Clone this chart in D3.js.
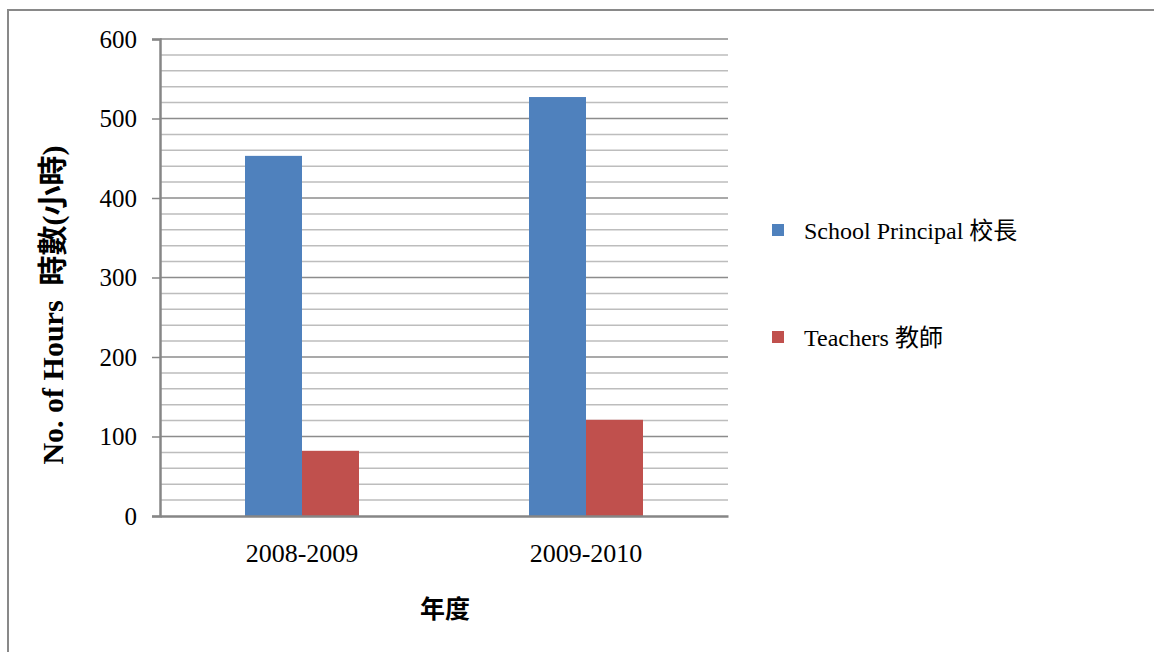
<!DOCTYPE html>
<html lang="zh-Hant">
<head>
<meta charset="UTF-8">
<title>No. of Hours</title>
<script src="https://d3js.org/d3.v7.min.js"></script>
<style>
  body { margin: 0; background: #fff; }
  svg text { font-family: "Liberation Serif", "Times New Roman", "Noto Sans CJK TC", serif; fill: #000; }
</style>
</head>
<body>
<svg id="chart" width="1154" height="652"></svg>
<script>
// data
var years = ["2008-2009", "2009-2010"];
var seriesNames = ["School Principal 校長", "Teachers 教師"];
var principal = [453, 527];
var teachers = [82, 121];
var colors = ["#4f81bd", "#c0504d"];
var yTicks = [0, 100, 200, 300, 400, 500, 600];

var svg = d3.select("#chart");

// outer frame
svg.append("rect")
    .attr("x", 8).attr("y", 10)
    .attr("width", 1160).attr("height", 660)
    .attr("fill", "none").attr("stroke", "#898989").attr("stroke-width", 2);

var plotL = 160, plotR = 728, plotT = 39, plotB = 516;

var x0 = d3.scaleBand().domain(years).range([plotL, plotR]);
var x1 = d3.scaleBand().domain(seriesNames).range([0, 114]);
var y = d3.scaleLinear().domain([0, 600]).range([plotB, plotT]);

// gridlines: minor every 20, major every 100
var minor = d3.range(20, 601, 20).filter(function(v) { return v % 100 !== 0; });
svg.append("g").selectAll("line").data(minor).enter().append("line")
    .attr("x1", plotL).attr("x2", plotR)
    .attr("y1", function(d) { return y(d); })
    .attr("y2", function(d) { return y(d); })
    .attr("stroke", "#bdbdbd").attr("stroke-width", 1.5);
svg.append("g").selectAll("line").data(yTicks.slice(1)).enter().append("line")
    .attr("x1", plotL).attr("x2", plotR)
    .attr("y1", function(d) { return y(d); })
    .attr("y2", function(d) { return y(d); })
    .attr("stroke", "#8c8c8c").attr("stroke-width", 1.5);

// bars
var rows = years.map(function(yr, i) {
    return { year: yr, values: [principal[i], teachers[i]] };
});
var groups = svg.append("g").selectAll("g").data(rows).enter().append("g")
    .attr("transform", function(d) { return "translate(" + (x0(d.year) + (x0.bandwidth() - 114) / 2) + ",0)"; });
groups.selectAll("rect").data(function(d) {
        return d.values.map(function(v, j) { return { name: seriesNames[j], value: v, c: colors[j] }; });
    }).enter().append("rect")
    .attr("x", function(d) { return x1(d.name); })
    .attr("y", function(d) { return y(d.value); })
    .attr("width", x1.bandwidth())
    .attr("height", function(d) { return plotB - y(d.value); })
    .attr("fill", function(d) { return d.c; });

// y axis
var yAxis = svg.append("g").attr("transform", "translate(" + plotL + ",0)")
    .call(d3.axisLeft(y).tickValues(yTicks).tickSize(8).tickPadding(15));
yAxis.select(".domain").attr("stroke", "#868686").attr("stroke-width", 2.5);
yAxis.selectAll(".tick line").attr("stroke", "#868686").attr("stroke-width", 1.5);
yAxis.selectAll(".tick text").style("font-size", "25px").attr("fill", "#000");

// x axis
var xAxis = svg.append("g").attr("transform", "translate(0," + plotB + ")")
    .call(d3.axisBottom(x0).tickSize(0).tickPadding(28));
xAxis.select(".domain").attr("stroke", "#868686").attr("stroke-width", 2.5);
xAxis.selectAll(".tick text").style("font-size", "26px").attr("fill", "#000");

// axis titles
svg.append("text")
    .attr("x", 445).attr("y", 618)
    .attr("text-anchor", "middle")
    .style("font-size", "25px").style("font-weight", "bold")
    .text("年度");

svg.append("text")
    .attr("transform", "translate(63,305) rotate(-90)")
    .attr("text-anchor", "middle")
    .style("font-size", "30px").style("font-weight", "bold")
    .attr("xml:space", "preserve")
    .text("No. of Hours  時數(小時)");

// legend
var legend = svg.append("g").selectAll("g").data(seriesNames).enter().append("g")
    .attr("transform", function(d, i) { return "translate(772," + (224 + i * 107) + ")"; });
legend.append("rect").attr("width", 12).attr("height", 12)
    .attr("fill", function(d, i) { return colors[i]; });
legend.append("text").attr("x", 32).attr("y", 15)
    .style("font-size", "24px")
    .text(function(d) { return d; });
</script>
</body>
</html>
